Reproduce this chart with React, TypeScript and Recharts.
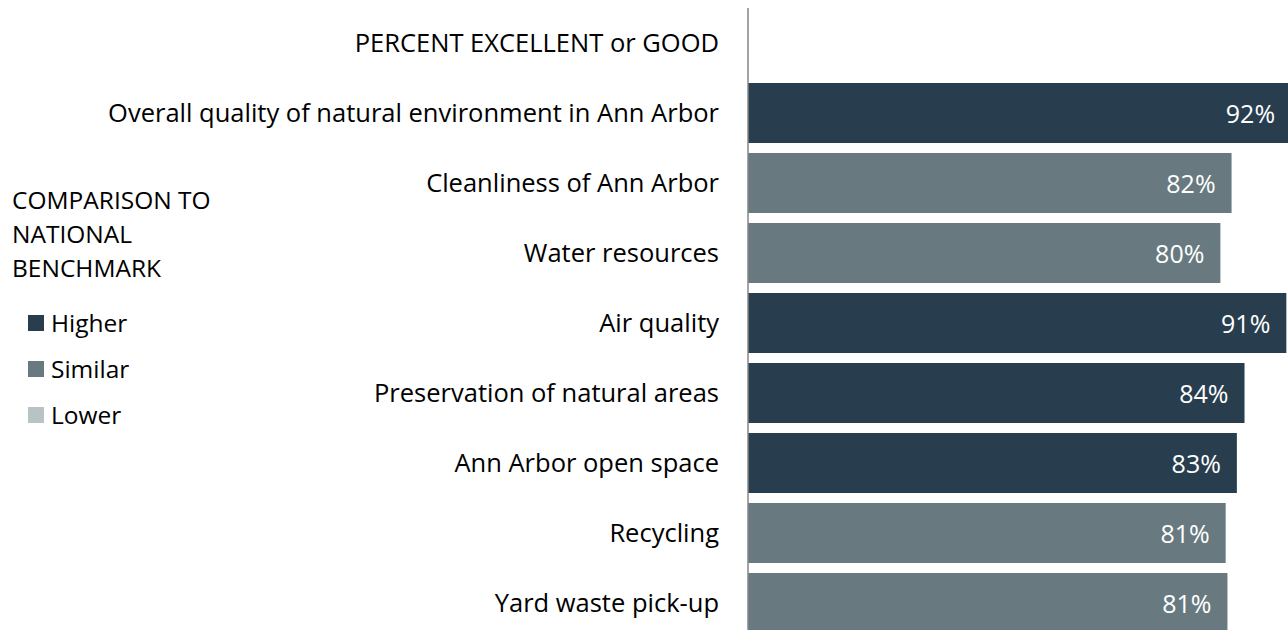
import { BarChart, Bar, XAxis, YAxis, Cell, LabelList, Legend } from "recharts"

const categories = [
  "PERCENT EXCELLENT or GOOD",
  "Overall quality of natural environment in Ann Arbor",
  "Cleanliness of Ann Arbor",
  "Water resources",
  "Air quality",
  "Preservation of natural areas",
  "Ann Arbor open space",
  "Recycling",
  "Yard waste pick-up",
]

// first row is the header line, it has no bar
const percents: (number | null)[] = [null, 92.2, 82.1, 80.2, 91.4, 84.3, 83.0, 81.1, 81.4]

const comparisons: (string | null)[] = [
  null,
  "Higher",
  "Similar",
  "Similar",
  "Higher",
  "Higher",
  "Higher",
  "Similar",
  "Similar",
]

const legendTitle = ["COMPARISON TO", "NATIONAL", "BENCHMARK"]
const legendItems = ["Higher", "Similar", "Lower"]

const colors: Record<string, string> = {
  Higher: "#283e4f",
  Similar: "#687a80",
  Lower: "#b9c3c6",
}

const FONT = "'Open Sans', Lato, sans-serif"

const data = categories.map((name, i) => ({
  name,
  value: percents[i],
  comparison: comparisons[i],
}))

function BenchmarkLegend() {
  return (
    <div style={{ position: "relative", width: 260, height: 630, fontFamily: FONT, fontSize: 24.5, color: "#000" }}>
      {legendTitle.map((t, i) => (
        <div key={t} style={{ position: "absolute", left: 12, top: 183 + i * 34, lineHeight: "34px", whiteSpace: "nowrap" }}>
          {t}
        </div>
      ))}
      {legendItems.map((t, i) => (
        <div
          key={t}
          style={{ position: "absolute", left: 28, top: 300 + i * 46, lineHeight: "46px", display: "flex", alignItems: "center", whiteSpace: "nowrap" }}
        >
          <span style={{ display: "inline-block", width: 16, height: 16, background: colors[t], marginRight: 7 }} />
          {t}
        </div>
      ))}
    </div>
  )
}

interface ValueLabelProps {
  x?: number
  y?: number
  width?: number
  height?: number
  value?: number | null
}

function ValueLabel({ x = 0, y = 0, width = 0, height = 0, value }: ValueLabelProps) {
  if (value == null) return null
  return (
    <text
      x={x + width - 16}
      y={y + height / 2}
      textAnchor="end"
      dominantBaseline="central"
      fill="#fff"
      fontFamily={FONT}
      fontSize={25}
    >
      {Math.round(value)}%
    </text>
  )
}

export default function App() {
  return (
    <div style={{ position: "absolute", left: 0, top: 0, width: 1288, height: 630, overflow: "hidden", background: "#fff" }}>
      <BarChart
        width={1337}
        height={640}
        data={data}
        layout="vertical"
        barSize={60}
        margin={{ top: 8, right: 0, bottom: 2, left: 0 }}
      >
        <XAxis type="number" domain={[0, 100]} hide />
        <YAxis
          type="category"
          dataKey="name"
          width={748}
          interval={0}
          tickLine={false}
          tickSize={0}
          tickMargin={29}
          axisLine={{ stroke: "#868686", strokeWidth: 1.5 }}
          tick={{ fill: "#000", fontSize: 25.5, fontFamily: FONT }}
        />
        <Legend
          layout="vertical"
          align="center"
          verticalAlign="middle"
          content={<BenchmarkLegend />}
          wrapperStyle={{ left: 0, top: 0, width: 260, height: 630 }}
        />
        <Bar dataKey="value" isAnimationActive={false}>
          {data.map((d, i) => (
            <Cell key={i} fill={d.comparison ? colors[d.comparison] : "transparent"} />
          ))}
          <LabelList dataKey="value" content={<ValueLabel />} />
        </Bar>
      </BarChart>
    </div>
  )
}
